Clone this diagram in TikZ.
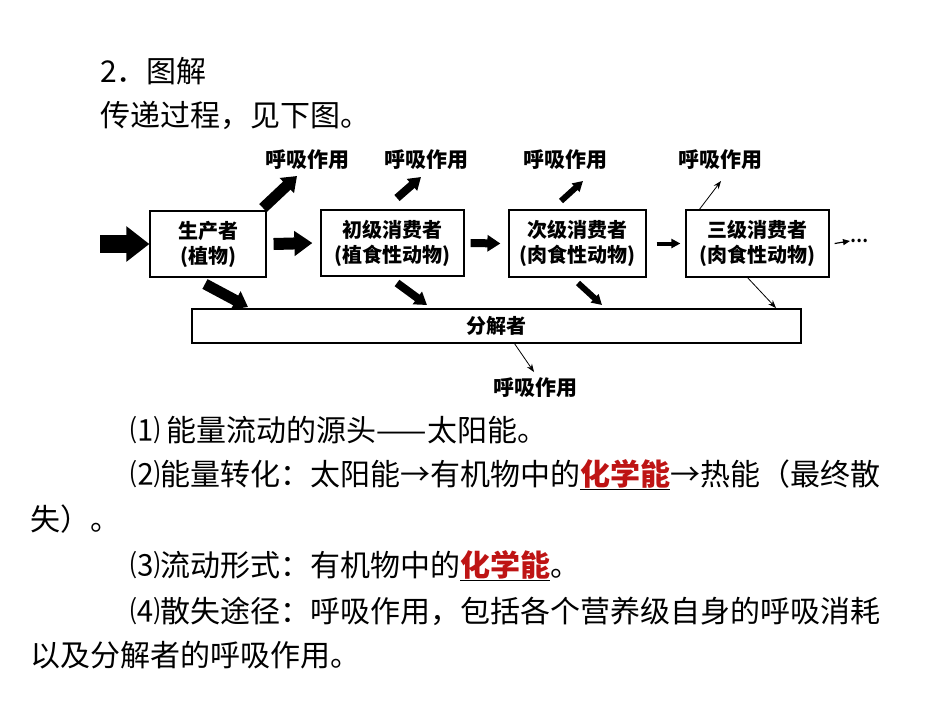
\documentclass[tikz,border=0pt]{standalone}
\usepackage{fontspec}
\setmainfont{Noto Sans CJK SC}
\usetikzlibrary{arrows.meta}
\definecolor{hl}{RGB}{190,20,20}
\begin{document}
\begin{tikzpicture}[x=1pt,y=-1pt,
  body/.style={anchor=base west,inner sep=0,font=\fontsize{30}{30}\selectfont},
  box/.style={draw,line width=1.2pt,align=center,inner sep=0,font=\bfseries\fontsize{20}{25}\selectfont},
  lbl/.style={inner sep=0,font=\bfseries\fontsize{21}{22}\selectfont},
  thin/.style={line width=0.8pt,-{Stealth[length=8pt,width=6pt]}}]
\useasboundingbox (0,0) rectangle (950,713);
% header
\node[body] (h1) at (100,82) {2．图解};
\node[body] (h2) at (100,126) {传递过程，见下图。};
% boxes
\node[box,minimum width=116,minimum height=66] (p) at (208,244) {生产者\\(植物)};
\node[box,minimum width=143,minimum height=66] (c1) at (392.5,243) {初级消费者\\(植食性动物)};
\node[box,minimum width=137,minimum height=67] (c2) at (577.5,243.5) {次级消费者\\(肉食性动物)};
\node[box,minimum width=143,minimum height=67] (c3) at (757.5,243.5) {三级消费者\\(肉食性动物)};
\node[box,minimum width=609,minimum height=34] (d) at (496.5,326) {分解者};
% labels
\node[lbl] (r0) at (307,160) {呼吸作用};
\node[lbl] (r1) at (426,160) {呼吸作用};
\node[lbl] (r2) at (565,160) {呼吸作用};
\node[lbl] (r3) at (720,160) {呼吸作用};
\node[lbl] (r4) at (535,388) {呼吸作用};
\node[lbl,anchor=west,font=\bfseries\fontsize{16}{16}\selectfont] (dots) at (850,241) {…};
\coordinate (in) at (100,244);
\coordinate (u0a) at (263,208); \coordinate (u0b) at (297,176);
\coordinate (u1a) at (397,198); \coordinate (u1b) at (421,177);
\coordinate (u2a) at (561,201); \coordinate (u2b) at (583,181);
\coordinate (u3b) at (721,181);
\coordinate (d0b) at (248,307); \coordinate (d1b) at (427,305);
\coordinate (d2b) at (602,305); \coordinate (d3b) at (776,308);
\coordinate (d4b) at (534,372);
% horizontal arrows
\draw[line width=18pt,-{Triangle[length=23pt,width=34pt]}] (in) -- (p.west);
\draw[line width=12pt,-{Triangle[length=18pt,width=24pt]}] ([xshift=7pt]p.east) -- ([xshift=-8pt]c1.west);
\draw[line width=8pt,-{Triangle[length=13pt,width=16pt]}] ([xshift=6pt]c1.east) -- ([xshift=-8pt]c2.west);
\draw[line width=4pt,-{Triangle[length=9pt,width=9pt]}] ([xshift=10pt]c2.east) -- ([xshift=-5pt]c3.west);
\draw[line width=1.2pt,-{Triangle[length=7pt,width=6pt]}] ([xshift=5pt]c3.east) -- (dots.west);
% up arrows
\draw[line width=11pt,-{Triangle[length=14pt,width=20pt]}] (u0a) -- (u0b);
\draw[line width=8pt,-{Triangle[length=12pt,width=15pt]}] (u1a) -- (u1b);
\draw[line width=6pt,-{Triangle[length=10pt,width=11pt]}] (u2a) -- (u2b);
\draw[thin] ([xshift=14pt]c3.north west) -- (u3b);
% down arrows
\draw[line width=11pt,-{Triangle[length=14pt,width=20pt]}] (205,284) -- (d0b);
\draw[line width=8pt,-{Triangle[length=12pt,width=15pt]}] (397,283) -- (d1b);
\draw[line width=6pt,-{Triangle[length=10pt,width=11pt]}] (578,283) -- (d2b);
\draw[thin] ([xshift=-10pt]c3.south) -- (d3b);
\draw[thin] ([xshift=18pt]d.south) -- (d4b);
% body text
\node[body] (t1) at (130,441) {⑴ 能量流动的源头——太阳能。};
\node[body] (t2) at (130,485) {⑵能量转化：太阳能→有机物中的\underline{\textcolor{hl}{\bfseries 化学能}}→热能（最终散};
\node[body] (t3) at (30,530) {失）。};
\node[body] (t4) at (130,576) {⑶流动形式：有机物中的\underline{\textcolor{hl}{\bfseries 化学能}}。};
\node[body] (t5) at (130,622) {⑷散失途径：呼吸作用，包括各个营养级自身的呼吸消耗};
\node[body] (t6) at (30,666) {以及分解者的呼吸作用。};
\end{tikzpicture}
\end{document}
